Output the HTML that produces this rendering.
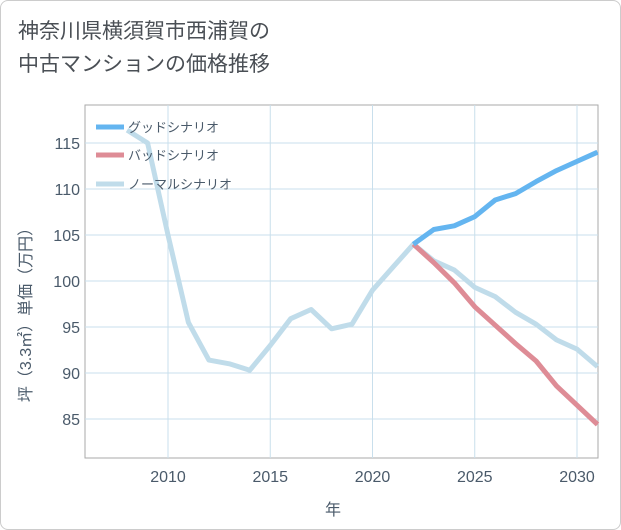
<!DOCTYPE html>
<html><head><meta charset="utf-8"><style>
body{margin:0;background:#fff;}
.wrap{position:relative;width:619px;height:528px;border:1px solid #ccc;border-radius:8px;background:#fff;overflow:hidden;font-family:"Liberation Sans","Noto Sans CJK JP",sans-serif;}
.title{position:absolute;left:17px;top:14px;font-size:21px;line-height:33px;color:#4a4f55;}
</style></head><body>
<div class="wrap">
<div class="title">神奈川県横須賀市西浦賀の<br>中古マンションの価格推移</div>
<svg id="c" width="621" height="530" style="position:absolute;left:0;top:0"></svg>
</div>
<script>
const years=[2008,2009,2010,2011,2012,2013,2014,2015,2016,2017,2018,2019,2020,2021,2022,2023,2024,2025,2026,2027,2028,2029,2030,2031];
const normal=[116.4,115,105,95.5,91.4,91,90.3,93,95.9,96.9,94.8,95.3,99,101.5,104,102.2,101.2,99.3,98.3,96.6,95.3,93.6,92.6,90.7];
const goodYears=[2022,2023,2024,2025,2026,2027,2028,2029,2030,2031];
const good=[104,105.6,106,107,108.8,109.5,110.8,112,113,114];
const bad=[104,102,99.8,97.2,95.2,93.2,91.3,88.6,86.5,84.4];
const xTicks=[2010,2015,2020,2025,2030];
const yTicks=[85,90,95,100,105,110,115];
const L=84,R=597,T=104,B=457;
const x=v=>167+(v-2010)*20.45;
const y=v=>142+(115-v)*9.2;
const s=document.getElementById('c');const NS='http://www.w3.org/2000/svg';
function mk(t,a,txt){const e=document.createElementNS(NS,t);for(const k in a)e.setAttribute(k,a[k]);if(txt!=null)e.textContent=txt;s.appendChild(e);return e;}
let e;
e=mk('rect',{x:L,y:T,width:R-L,height:B-T,fill:'#fff',stroke:'#aaa','stroke-width':1});


xTicks.forEach(t=>{
e=mk('line',{x1:x(t),x2:x(t),y1:T,y2:B,stroke:'#c9dfec','stroke-width':1});


e=mk('text',{x:x(t),y:481,'text-anchor':'middle','font-size':16,fill:'#4a5a6a'},t);


});
yTicks.forEach(t=>{
e=mk('line',{x1:L,x2:R,y1:y(t),y2:y(t),stroke:'#c9dfec','stroke-width':1});


e=mk('text',{x:79,y:y(t)+6,'text-anchor':'end','font-size':16,fill:'#4a5a6a'},t);


});
e=mk('text',{x:332,y:514,'text-anchor':'middle','font-size':16,fill:'#4a5a6a'},'年');


e=mk('text',{x:0,y:0,'text-anchor':'middle','font-size':16,fill:'#4a5a6a',transform:'translate(30,310) rotate(-90)'},'坪（3.3㎡）単価（万円）');


function line(xs,vs,col,name){
const d=xs.map((v,i)=>(i?'L':'M')+x(v).toFixed(1)+','+y(vs[i]).toFixed(1)).join('');
const p=mk('path',{d:d,fill:'none',stroke:col,'stroke-width':5,'stroke-linejoin':'round'});


}
const cp=mk('clipPath',{id:'cp'});const r=document.createElementNS(NS,'rect');r.setAttribute('x',L);r.setAttribute('y',T);r.setAttribute('width',R-L);r.setAttribute('height',B-T);cp.appendChild(r);
const g0=s.innerHTML;
line(years,normal,'#c0dcea','normal-scenario-line');
line(goodYears,bad,'#de8c96','bad-scenario-line');
line(goodYears,good,'#64b5f0','good-scenario-line');
[['グッドシナリオ','#64b5f0',126],['バッドシナリオ','#de8c96',154],['ノーマルシナリオ','#c0dcea',183]].forEach(l=>{
e=mk('line',{x1:95,x2:123,y1:l[2],y2:l[2],stroke:l[1],'stroke-width':5});


e=mk('text',{x:127,y:l[2]+5,'font-size':13,fill:'#4a5a6a'},l[0]);


});
</script>
</body></html>
